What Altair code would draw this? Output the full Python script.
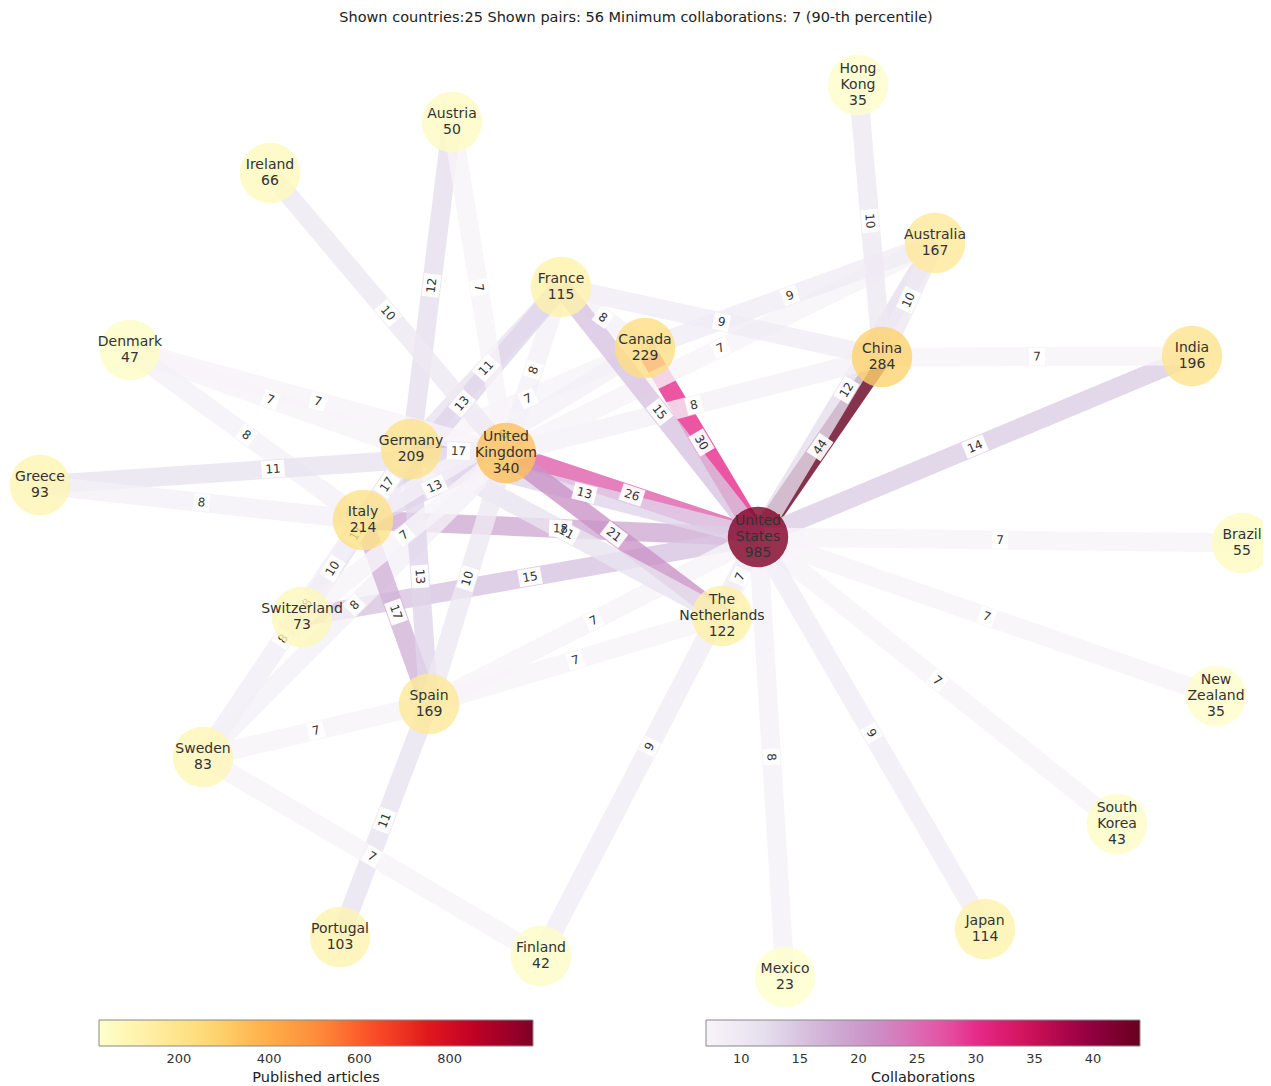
import math
import altair as alt
import pandas as pd

# ---- data -------------------------------------------------------------
countries = ["Hong Kong", "Austria", "Ireland", "Australia", "France", "Canada",
             "China", "India", "Denmark", "Germany", "United Kingdom", "Greece",
             "Italy", "United States", "Brazil", "Switzerland", "The Netherlands",
             "New Zealand", "Spain", "Sweden", "South Korea", "Portugal",
             "Finland", "Japan", "Mexico"]
layout_x = [858, 452, 270, 935, 561, 645, 882, 1192, 130, 411, 506, 40, 363,
            758, 1242, 302, 722, 1216, 429, 203, 1117, 340, 541, 985, 785]
layout_y = [85, 122, 173, 243, 287, 348, 357, 356, 350, 449, 453, 485, 520,
            537, 543, 617, 616, 696, 704, 757, 824, 937, 956, 929, 977]
articles = [35, 50, 66, 167, 115, 229, 284, 196, 47, 209, 340, 93, 214,
            985, 55, 73, 122, 35, 169, 83, 43, 103, 42, 114, 23]

pair_a = ["China", "Canada", "United Kingdom", "Australia", "India", "Brazil",
          "New Zealand", "South Korea", "Japan", "Mexico", "The Netherlands",
          "Italy", "Switzerland", "Spain", "Finland", "Germany",
          "United Kingdom", "Spain", "Germany", "United Kingdom", "United Kingdom",
          "Canada", "France", "France", "Germany", "France", "Germany", "Italy",
          "Italy", "Germany", "Germany", "Austria", "Austria", "Ireland",
          "Denmark", "Denmark", "Denmark", "Greece", "Greece", "China",
          "Australia", "Hong Kong", "Switzerland", "Sweden", "Sweden",
          "Switzerland", "Spain", "Spain", "Spain", "Switzerland", "Sweden",
          "Spain", "Sweden", "Sweden", "Italy", "France"]
pair_b = ["United States", "United States", "United States", "United States",
          "United States", "United States", "United States", "United States",
          "United States", "United States", "United States", "United States",
          "United States", "United States", "United States", "United States",
          "The Netherlands", "The Netherlands", "The Netherlands", "China",
          "Australia", "Australia", "China", "Canada", "Canada",
          "United Kingdom", "France", "France", "United Kingdom",
          "United Kingdom", "Italy", "Germany", "United Kingdom",
          "United Kingdom", "Germany", "United Kingdom", "Italy",
          "United Kingdom", "Italy", "India", "China", "China", "Italy",
          "United Kingdom", "Italy", "Germany", "Italy", "Germany",
          "United Kingdom", "United Kingdom", "Spain", "Portugal", "Finland",
          "Germany", "Canada", "United States"]
collabs = [44, 30, 26, 12, 14, 7, 7, 7, 9, 8, 7, 18, 15, 7, 9, 13,
           21, 7, 11, 8, 7, 9, 9, 8, 7, 8, 11, 13, 13, 17, 17, 12, 7, 10,
           7, 7, 8, 11, 8, 7, 10, 10, 10, 8, 8, 11, 17, 13, 10, 7, 7, 11, 7,
           8, 8, 15]

title_text = ("Shown countries:25 Shown pairs: 56 Minimum collaborations: 7 "
              "(90-th percentile)")

# colormaps (matplotlib YlOrRd and PuRd control colours)
ylorrd = ["#ffffcc", "#ffeda0", "#fed976", "#feb24c", "#fd8d3c",
          "#fc4e2a", "#e31a1c", "#bd0026", "#800026"]
purd = ["#f7f4f9", "#e7e1ef", "#d4b9da", "#c994c7", "#df65b0",
        "#e7298a", "#ce1256", "#980043", "#67001f"]


def stops(lo, hi, n):
    return [lo + (hi - lo) * i / (n - 1) for i in range(n)]


# ---- tables built from the arrays ------------------------------------
nodes = pd.DataFrame({
    "country": countries,
    "x": layout_x,
    "y": layout_y,
    "articles": articles,
})
nodes["label"] = [c.replace(" ", "\n") + "\n" + str(a)
                  for c, a in zip(countries, articles)]
nodes["lines"] = [len(c.split(" ")) + 1 for c in countries]

pos = {c: (x, y) for c, x, y in zip(countries, layout_x, layout_y)}
rows = []
for i, (a, b, w) in enumerate(zip(pair_a, pair_b, collabs)):
    x1, y1 = pos[a]
    x2, y2 = pos[b]
    ang = math.degrees(math.atan2(y2 - y1, x2 - x1))
    if ang > 90:
        ang -= 180
    if ang < -90:
        ang += 180
    rows.append({
        "order": i, "a": a, "b": b, "w": w,
        "x": x1, "y": y1, "x2": x2, "y2": y2,
        "mx": (x1 + x2) / 2, "my": (y1 + y2) / 2,
        "angle": ang % 360,
        "digits": str(len(str(w))),
    })
edges = pd.DataFrame(rows)

# ---- scales -----------------------------------------------------------
W, H = 1255, 1070
xs = alt.Scale(domain=[8, 8 + W], nice=False, zero=False)
ys = alt.Scale(domain=[8, 8 + H], nice=False, zero=False, reverse=True)
FONT = "DejaVu Sans"

legend_common = dict(
    orient="none", direction="horizontal", gradientLength=434,
    gradientThickness=26, titleOrient="bottom", titleAnchor="middle",
    labelFont=FONT, titleFont=FONT, labelFontSize=13, titleFontSize=14.5,
    titleFontWeight="normal", labelColor="#333", titleColor="#222",
    gradientStrokeColor="#888", gradientStrokeWidth=1, padding=0,
    labelOffset=7, titlePadding=5,
)

stroke_scale = alt.Scale(domain=stops(7, 44, len(purd)), range=purd,
                         nice=False, zero=False)
fill_scale = alt.Scale(domain=stops(23, 985, len(ylorrd)), range=ylorrd,
                       nice=False, zero=False)

# invisible carriers of the two colour bars (drawn at full opacity)
edge_key = alt.Chart(edges).mark_rule(strokeWidth=0, opacity=1).encode(
    x=alt.X("mx:Q", scale=xs, axis=None),
    y=alt.Y("my:Q", scale=ys, axis=None),
    stroke=alt.Stroke(
        "w:Q", scale=stroke_scale,
        legend=alt.Legend(title="Collaborations", legendX=698, legendY=1012,
                          values=[10, 15, 20, 25, 30, 35, 40], **legend_common),
    ),
)
node_key = alt.Chart(nodes).mark_circle(size=0, opacity=1).encode(
    x=alt.X("x:Q", scale=xs, axis=None),
    y=alt.Y("y:Q", scale=ys, axis=None),
    fill=alt.Fill(
        "articles:Q", scale=fill_scale,
        legend=alt.Legend(title="Published articles", legendX=91, legendY=1012,
                          values=[200, 400, 600, 800], **legend_common),
    ),
)

edge_layer = alt.Chart(edges).mark_rule(
    strokeWidth=19, strokeCap="butt", opacity=0.8
).encode(
    x=alt.X("x:Q", scale=xs, axis=None),
    y=alt.Y("y:Q", scale=ys, axis=None),
    x2="x2:Q",
    y2="y2:Q",
    stroke=alt.Stroke("w:Q", scale=stroke_scale, legend=None),
    order=alt.Order("order:Q"),
)

box_paths = ["M-0.95,-1L0.95,-1L0.95,1L-0.95,1Z",
             "M-1.35,-1L1.35,-1L1.35,1L-1.35,1Z"]
box_layer = alt.Chart(edges).mark_point(
    filled=True, fill="white", opacity=0.92, size=289, strokeWidth=0
).encode(
    x=alt.X("mx:Q", scale=xs, axis=None),
    y=alt.Y("my:Q", scale=ys, axis=None),
    shape=alt.Shape("digits:N", scale=alt.Scale(domain=["1", "2"], range=box_paths),
                    legend=None),
    angle=alt.Angle("angle:Q", scale=None),
)

edge_text = alt.Chart(edges).mark_text(
    font=FONT, fontSize=12, color="#333", baseline="middle", align="center"
).encode(
    x=alt.X("mx:Q", scale=xs, axis=None),
    y=alt.Y("my:Q", scale=ys, axis=None),
    text="w:Q",
    angle=alt.Angle("angle:Q", scale=None),
)

node_layer = alt.Chart(nodes).mark_circle(size=3660, opacity=0.8).encode(
    x=alt.X("x:Q", scale=xs, axis=None),
    y=alt.Y("y:Q", scale=ys, axis=None),
    fill=alt.Fill("articles:Q", scale=fill_scale, legend=None),
)


def node_text(n_lines, dy):
    return alt.Chart(nodes).transform_filter(
        alt.datum.lines == n_lines
    ).mark_text(
        font=FONT, fontSize=14, color="#333", lineBreak="\n", lineHeight=16,
        baseline="middle", align="center", dy=dy
    ).encode(
        x=alt.X("x:Q", scale=xs, axis=None),
        y=alt.Y("y:Q", scale=ys, axis=None),
        text="label:N",
    )


title_layer = alt.Chart(pd.DataFrame({"t": [title_text]})).mark_text(
    font=FONT, fontSize=14.5, color="#222", baseline="middle", align="center"
).encode(
    x=alt.value(W / 2 + 0.5),
    y=alt.value(10),
    text="t:N",
)

chart = alt.layer(
    edge_key, node_key, edge_layer, box_layer, edge_text, node_layer,
    node_text(2, -8), node_text(3, -16), title_layer
).properties(
    width=W, height=H,
    padding={"left": 0, "right": 0, "top": 0, "bottom": 8},
    autosize="none",
).configure_view(stroke=None)

chart.save("out.html", embed_options={"renderer": "svg", "actions": False})
